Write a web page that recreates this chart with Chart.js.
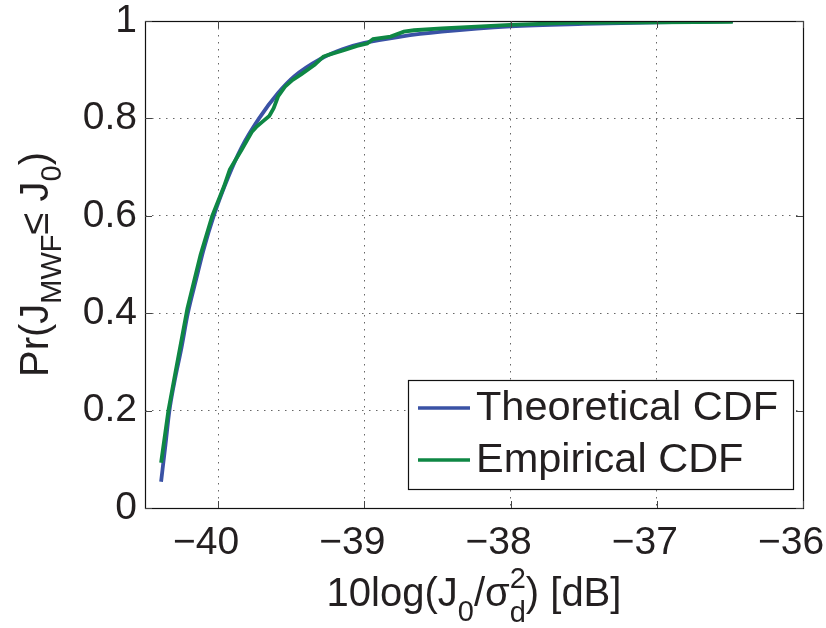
<!DOCTYPE html>
<html>
<head>
<meta charset="utf-8">
<script src="https://cdn.jsdelivr.net/npm/chart.js@4.4.0/dist/chart.umd.min.js"></script>
<style>
  html, body { margin: 0; padding: 0; background: #fff; }
  #wrap { width: 826px; height: 628px; position: relative; }
</style>
</head>
<body>
<div id="wrap"><canvas id="c" width="826" height="628"></canvas></div>
<script>
// ---- data ----
const seriesNames = ['Theoretical CDF', 'Empirical CDF'];
const theoX = [-40.39, -40.36, -40.333, -40.30, -40.25, -40.207, -40.15, -40.10, -40.03, -39.93, -39.84, -39.72, -39.59, -39.48, -39.30, -39.15, -39.00, -38.75, -38.47, -38.00, -37.50, -37.00, -36.48];
const theoY = [0.054, 0.13, 0.20, 0.257, 0.33, 0.40, 0.47, 0.53, 0.60, 0.68, 0.74, 0.80, 0.852, 0.886, 0.922, 0.942, 0.955, 0.968, 0.978, 0.989, 0.994, 0.997, 1.0];
const empX = [-40.39, -40.34, -40.30, -40.21, -40.12, -40.04, -39.96, -39.92, -39.88, -39.84, -39.77, -39.74, -39.69, -39.65, -39.62, -39.59, -39.54, -39.49, -39.43, -39.34, -39.28, -39.23, -39.14, -39.05, -38.98, -38.94, -38.82, -38.73, -38.66, -38.47, -38.20, -38.00, -37.61, -37.00, -36.48];
const empY = [0.093, 0.20, 0.265, 0.41, 0.52, 0.60, 0.66, 0.695, 0.715, 0.735, 0.772, 0.782, 0.795, 0.805, 0.821, 0.845, 0.866, 0.879, 0.891, 0.910, 0.927, 0.932, 0.940, 0.949, 0.954, 0.963, 0.968, 0.978, 0.981, 0.985, 0.989, 0.992, 0.996, 0.997, 0.998];
const xTicks = [-40, -39, -38, -37, -36];
const xTickLabels = ['\u221240', '\u221239', '\u221238', '\u221237', '\u221236'];
const yTicks = [0, 0.2, 0.4, 0.6, 0.8, 1];
const yTickLabels = ['0', '0.2', '0.4', '0.6', '0.8', '1'];
const xRange = [-40.5, -36];
const yRange = [0, 1];

const FONT = '"Liberation Sans", Arial, Helvetica, sans-serif';
const TXT = '#231f20';
const colors = ['#3a52a5', '#0e8744'];

function pts(xs, ys) { return xs.map((x, i) => ({ x: x, y: ys[i] })); }

const frame = {
  id: 'frame',
  afterDraw(chart) {
    const { ctx, chartArea: a } = chart;
    const xs = chart.scales.x, ys = chart.scales.y;
    ctx.save();
    // box
    ctx.strokeStyle = '#111';
    ctx.lineWidth = 1.2;
    ctx.strokeRect(a.left + 0.5, a.top + 0.5, a.right - a.left, a.bottom - a.top);
    // inward ticks
    const tl = 7;
    ctx.beginPath();
    xTicks.forEach(v => {
      const px = Math.round(xs.getPixelForValue(v)) + 0.5;
      ctx.moveTo(px, a.bottom); ctx.lineTo(px, a.bottom - tl);
      ctx.moveTo(px, a.top); ctx.lineTo(px, a.top + tl);
    });
    yTicks.forEach(v => {
      const py = Math.round(ys.getPixelForValue(v)) + 0.5;
      ctx.moveTo(a.left, py); ctx.lineTo(a.left + tl, py);
      ctx.moveTo(a.right, py); ctx.lineTo(a.right - tl, py);
    });
    ctx.strokeStyle = '#444';
    ctx.lineWidth = 1;
    ctx.stroke();

    // legend
    const L = { x: 408, y: 380, w: 385, h: 109 };
    ctx.fillStyle = '#fff';
    ctx.fillRect(L.x, L.y, L.w, L.h);
    ctx.strokeStyle = '#111';
    ctx.lineWidth = 1.2;
    ctx.strokeRect(L.x + 0.5, L.y + 0.5, L.w, L.h);
    ctx.font = '41.5px ' + FONT;
    ctx.textBaseline = 'middle';
    ctx.textAlign = 'left';
    chart.data.datasets.forEach((ds, i) => {
      const ly = L.y + 28 + i * 52;
      ctx.strokeStyle = ds.borderColor;
      ctx.lineWidth = 3.5;
      ctx.beginPath(); ctx.moveTo(L.x + 10, ly); ctx.lineTo(L.x + 62, ly); ctx.stroke();
      ctx.fillStyle = TXT;
      ctx.fillText(ds.label, L.x + 68, ly + 1);
    });

    // x axis title: 10log(J_0/σ_d^2) [dB]
    const big = '40px ' + FONT, small = '29px ' + FONT;
    const parts = [
      { t: '10log(J', f: big, dy: 0 },
      { t: '0', f: small, dy: 15 },
      { t: '/\u03c3', f: big, dy: 0 },
      { t: '2', f: small, dy: -18, stackWith: 'd' },
      { t: ') [dB]', f: big, dy: 0 }
    ];
    function measure(p) {
      ctx.font = p.f;
      let w = ctx.measureText(p.t).width;
      if (p.stackWith) w = Math.max(w, ctx.measureText(p.stackWith).width);
      return w;
    }
    let total = parts.reduce((s, p) => s + measure(p), 0);
    let cx = (a.left + a.right) / 2 - total / 2;
    const base = 606;
    ctx.fillStyle = TXT;
    ctx.textBaseline = 'alphabetic';
    parts.forEach(p => {
      const w = measure(p);
      ctx.font = p.f;
      ctx.fillText(p.t, cx, base + p.dy);
      if (p.stackWith) ctx.fillText(p.stackWith, cx, base + 16);
      cx += w;
    });

    // y axis title: Pr(J_MWF ≤ J_0)
    const yparts = [
      { t: 'Pr(J', f: big, dy: 0 },
      { t: 'MWF', f: small, dy: 13 },
      { t: '\u2264 J', f: big, dy: 0 },
      { t: '0', f: small, dy: 13 },
      { t: ')', f: big, dy: 0 }
    ];
    let ytot = yparts.reduce((s, p) => s + measure(p), 0);
    ctx.save();
    ctx.translate(48, (a.top + a.bottom) / 2);
    ctx.rotate(-Math.PI / 2);
    let yx = -ytot / 2;
    yparts.forEach(p => {
      const w = measure(p);
      ctx.font = p.f;
      ctx.fillText(p.t, yx, p.dy);
      yx += w;
    });
    ctx.restore();
    ctx.restore();
  }
};

new Chart(document.getElementById('c'), {
  type: 'line',
  data: {
    datasets: [
      { label: seriesNames[0], data: pts(theoX, theoY), borderColor: colors[0], backgroundColor: colors[0],
        borderWidth: 3.8, pointRadius: 0, cubicInterpolationMode: 'monotone', order: 2 },
      { label: seriesNames[1], data: pts(empX, empY), borderColor: colors[1], backgroundColor: colors[1],
        borderWidth: 3.8, pointRadius: 0, tension: 0, order: 1 }
    ]
  },
  options: {
    responsive: false,
    animation: false,
    devicePixelRatio: 1,
    layout: { padding: { top: 21, right: 23, left: 0, bottom: 0 } },
    plugins: { legend: { display: false }, tooltip: { enabled: false } },
    scales: {
      x: {
        type: 'linear', min: xRange[0], max: xRange[1],
        afterBuildTicks: s => { s.ticks = xTicks.map(v => ({ value: v })); },
        afterFit: s => { s.height = 120; s.paddingLeft = 0; s.paddingRight = 0; },
        ticks: {
          autoSkip: false, maxRotation: 0, padding: 12, labelOffset: -12,
          color: TXT, font: { family: FONT, size: 39 },
          callback: (v) => { const i = xTicks.indexOf(v); return i >= 0 ? xTickLabels[i] : ''; }
        },
        grid: { color: '#666', lineWidth: 1, drawTicks: false },
        border: { display: false, dash: [1.5, 5.5] }
      },
      y: {
        type: 'linear', min: yRange[0], max: yRange[1],
        afterBuildTicks: s => { s.ticks = yTicks.map(v => ({ value: v })); },
        afterFit: s => { s.width = 145; s.paddingTop = 0; s.paddingBottom = 0; },
        ticks: {
          autoSkip: false, padding: 8,
          color: TXT, font: { family: FONT, size: 39 },
          callback: (v) => { const i = yTicks.findIndex(t => Math.abs(t - v) < 1e-9); return i >= 0 ? yTickLabels[i] : ''; }
        },
        grid: { color: '#666', lineWidth: 1, drawTicks: false },
        border: { display: false, dash: [1.5, 5.5] }
      }
    }
  },
  plugins: [frame]
});
</script>
</body>
</html>
